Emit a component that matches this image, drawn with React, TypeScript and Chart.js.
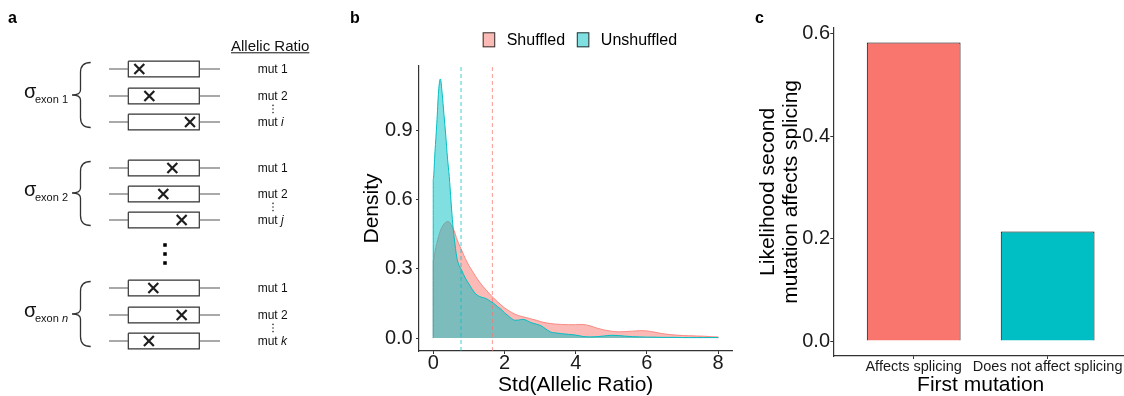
import React, { useEffect, useRef } from 'react';
import { Chart, registerables } from 'chart.js';

Chart.register(...registerables);

const FONT = '"Liberation Sans", Arial, Helvetica, sans-serif';
Chart.defaults.font.family = FONT;

// ---------- Panel a (schematic) ----------
const exonGroups = ['1', '2', 'n'];
const groupMutLabels = [['1', '2', 'i'], ['1', '2', 'j'], ['1', '2', 'k']];
// relative position of the mutation inside the exon box (0 = left edge, 1 = right edge)
const mutPositions = [[0.155, 0.296, 0.869], [0.62, 0.493, 0.752], [0.352, 0.752, 0.29]];
// row positions in schematic units
const groupRowY = [[69, 96, 122], [168, 194, 220], [288, 315, 341]];

// ---------- Panel b (density) ----------
const densityX = [0, 0.05, 0.1, 0.15, 0.2, 0.25, 0.3, 0.35, 0.4, 0.45, 0.5, 0.55, 0.6, 0.65, 0.7, 0.8, 0.9, 1.0, 1.1, 1.2, 1.3, 1.4, 1.5, 1.6, 1.7, 1.8, 1.9, 2.0, 2.1, 2.2, 2.3, 2.4, 2.5, 2.6, 2.7, 2.8, 2.9, 3.0, 3.1, 3.2, 3.3, 3.4, 3.6, 3.8, 4.0, 4.2, 4.4, 4.6, 4.8, 5.0, 5.2, 5.4, 5.6, 5.8, 6.0, 6.2, 6.4, 6.6, 6.8, 7.0, 7.2, 7.4, 7.6, 7.8, 8.0];
const unshuffledDensity = [0.69, 0.81, 0.93, 1.07, 1.123, 1.06, 0.97, 0.88, 0.78, 0.70, 0.59, 0.49, 0.42, 0.36, 0.325, 0.293, 0.26, 0.235, 0.21, 0.19, 0.18, 0.175, 0.17, 0.16, 0.15, 0.137, 0.125, 0.11, 0.097, 0.084, 0.077, 0.078, 0.081, 0.078, 0.07, 0.064, 0.06, 0.055, 0.046, 0.035, 0.026, 0.023, 0.019, 0.016, 0.013, 0.007, 0.005, 0.006, 0.009, 0.012, 0.011, 0.008, 0.006, 0.005, 0.004, 0.004, 0.003, 0.003, 0.003, 0.002, 0.002, 0.002, 0.002, 0.002, 0.002];
const shuffledDensity = [0.336, 0.375, 0.41, 0.44, 0.465, 0.482, 0.494, 0.502, 0.505, 0.503, 0.492, 0.477, 0.46, 0.435, 0.415, 0.38, 0.345, 0.315, 0.29, 0.265, 0.243, 0.223, 0.206, 0.188, 0.173, 0.158, 0.144, 0.131, 0.121, 0.111, 0.103, 0.097, 0.093, 0.089, 0.085, 0.081, 0.077, 0.072, 0.068, 0.065, 0.063, 0.061, 0.059, 0.058, 0.058, 0.059, 0.053, 0.043, 0.035, 0.030, 0.027, 0.028, 0.030, 0.032, 0.031, 0.026, 0.020, 0.016, 0.013, 0.011, 0.010, 0.009, 0.008, 0.006, 0.005];
const seriesNames = ['Shuffled', 'Unshuffled'];
const seriesMeans = [1.66, 0.78];
const densityXTicks = [0, 2, 4, 6, 8];
const densityYTicks = [0, 0.3, 0.6, 0.9];

// ---------- Panel c (bars) ----------
const firstMutation = ['Affects splicing', 'Does not affect splicing'];
const likelihood = [0.583, 0.214];
const likelihoodTicks = [0, 0.2, 0.4, 0.6];

// ---------- styles ----------
const RED = '#F8766D';
const CYAN = '#00BFC4';
const RED_A = 'rgba(248,118,109,0.5)';
const CYAN_A = 'rgba(0,191,196,0.5)';
const AXIS = '#333333';
const TICKTXT = '#1a1a1a';

// schematic geometry
const EXON_LEFT = 128.3, EXON_RIGHT = 199.3, INTRON_LEFT = 109, INTRON_RIGHT = 220, EXON_HALF_H = 7.8;
const SCHEMA_PAD = 12;

function makeSchematic(canvas: HTMLCanvasElement) {
  const introns: any[] = [];
  const boxes: any[] = [];
  const crosses: any[] = [];
  const smallDots: any[] = [];
  groupRowY.forEach((rows, g) => {
    rows.forEach((y, r) => {
      introns.push({ x: INTRON_LEFT, y }, { x: EXON_LEFT, y }, { x: EXON_LEFT, y: null },
        { x: EXON_RIGHT, y }, { x: INTRON_RIGHT, y }, { x: INTRON_RIGHT, y: null });
      boxes.push({ x: EXON_LEFT, y: y - EXON_HALF_H }, { x: EXON_RIGHT, y: y - EXON_HALF_H },
        { x: EXON_RIGHT, y: y + EXON_HALF_H }, { x: EXON_LEFT, y: y + EXON_HALF_H },
        { x: EXON_LEFT, y: y - EXON_HALF_H }, { x: EXON_LEFT, y: null });
      crosses.push({ x: EXON_LEFT + mutPositions[g][r] * (EXON_RIGHT - EXON_LEFT), y });
    });
    const mid = (rows[1] + rows[2]) / 2;
    smallDots.push({ x: 273, y: mid - 3.6 }, { x: 273, y: mid }, { x: 273, y: mid + 3.6 });
  });
  const gapMid = (groupRowY[1][2] + groupRowY[2][0]) / 2;
  const bigDots = [{ x: 165, y: gapMid - 9 }, { x: 165, y: gapMid }, { x: 165, y: gapMid + 9 }];

  const textPlugin = {
    id: 'schematicText',
    afterDatasetsDraw(chart: any) {
      const ctx = chart.ctx;
      const sx = (v: number) => chart.scales.x.getPixelForValue(v);
      const sy = (v: number) => chart.scales.y.getPixelForValue(v);
      ctx.save();
      ctx.fillStyle = '#000';
      ctx.textAlign = 'left';
      ctx.textBaseline = 'alphabetic';
      ctx.font = `bold 16px ${FONT}`;
      ctx.fillText('a', sx(8), sy(23));
      // header
      ctx.fillStyle = '#111';
      ctx.font = `15px ${FONT}`;
      ctx.fillText('Allelic Ratio', sx(231), sy(50.5));
      const hw = ctx.measureText('Allelic Ratio').width;
      ctx.strokeStyle = '#111';
      ctx.lineWidth = 1;
      ctx.beginPath();
      ctx.moveTo(sx(231), sy(52.8));
      ctx.lineTo(sx(231) + hw, sy(52.8));
      ctx.stroke();

      groupRowY.forEach((rows, g) => {
        const top = sy(rows[0] - 6.5);
        const bot = sy(rows[2] + 5.5);
        const tip = sy(rows[1] - 1);
        const xEnd = sx(90.7), xSpine = sx(80.5), xTip = sx(72);
        ctx.strokeStyle = '#333';
        ctx.lineWidth = 1.3;
        ctx.beginPath();
        ctx.moveTo(xEnd, top);
        ctx.quadraticCurveTo(xSpine, top, xSpine, top + 10);
        ctx.lineTo(xSpine, tip - 5);
        ctx.quadraticCurveTo(xSpine, tip, xTip, tip);
        ctx.quadraticCurveTo(xSpine, tip, xSpine, tip + 5);
        ctx.lineTo(xSpine, bot - 10);
        ctx.quadraticCurveTo(xSpine, bot, xEnd, bot);
        ctx.stroke();

        // sigma label
        ctx.fillStyle = '#111';
        ctx.textBaseline = 'alphabetic';
        ctx.font = `20px ${FONT}`;
        ctx.fillText('σ', sx(24), sy(rows[1] + 1.5));
        ctx.font = `11px ${FONT}`;
        const base = 'exon ';
        ctx.fillText(base, sx(35), sy(rows[1] + 6.8));
        const bw = ctx.measureText(base).width;
        if (exonGroups[g] === 'n') ctx.font = `italic 11px ${FONT}`;
        ctx.fillText(exonGroups[g], sx(35) + bw, sy(rows[1] + 6.8));

        // mut labels
        ctx.textBaseline = 'middle';
        rows.forEach((y, r) => {
          ctx.font = `12px ${FONT}`;
          const pre = 'mut ';
          ctx.fillText(pre, sx(257.7), sy(y + 0.3));
          const pw = ctx.measureText(pre).width;
          const lab = groupMutLabels[g][r];
          if (/[a-z]/.test(lab)) ctx.font = `italic 12px ${FONT}`;
          ctx.fillText(lab, sx(257.7) + pw, sy(y + 0.3));
        });
      });
      ctx.restore();
    },
  };

  return new Chart(canvas, {
    type: 'line',
    data: {
      datasets: [
        { label: 'introns', data: introns, borderColor: '#555', borderWidth: 1.2, pointRadius: 0, spanGaps: false, fill: false },
        { label: 'exons', data: boxes, borderColor: '#333', borderWidth: 1.2, pointRadius: 0, spanGaps: false, fill: false },
        { label: 'mutations', data: crosses, showLine: false, pointStyle: 'crossRot', pointRadius: 7, borderColor: '#1e1e1e', pointBorderWidth: 2.2, borderWidth: 2.2 },
        { label: 'dots', data: smallDots, showLine: false, pointStyle: 'circle', pointRadius: 0.8, backgroundColor: '#333', borderWidth: 0 },
        { label: 'groups', data: bigDots, showLine: false, pointStyle: 'rect', pointRadius: 2.5, backgroundColor: '#000', borderWidth: 0 },
      ] as any,
    },
    options: {
      responsive: false,
      animation: false,
      layout: { padding: SCHEMA_PAD },
      plugins: { legend: { display: false }, tooltip: { enabled: false } },
      events: [],
      scales: {
        x: { type: 'linear', min: SCHEMA_PAD, max: 340 - SCHEMA_PAD, display: false },
        y: { type: 'linear', min: SCHEMA_PAD, max: 396 - SCHEMA_PAD, reverse: true, display: false },
      },
    } as any,
    plugins: [textPlugin],
  });
}

function makeDensity(canvas: HTMLCanvasElement) {
  const Y_MIN = -0.0561, Y_MAX = 1.1791;
  const pts = (vals: number[]) => [
    { x: densityX[0], y: 0 },
    ...densityX.map((x, i) => ({ x, y: vals[i] })),
    { x: densityX[densityX.length - 1], y: 0 },
  ];
  const fills = [RED_A, CYAN_A];
  const lines = [RED, CYAN];
  const plugin = {
    id: 'densityDecor',
    afterDraw(chart: any) {
      const ctx = chart.ctx;
      ctx.save();
      ctx.fillStyle = '#000';
      ctx.textAlign = 'left';
      ctx.textBaseline = 'alphabetic';
      ctx.font = `bold 16px ${FONT}`;
      ctx.fillText('b', 10, 23);
      ctx.font = `16px ${FONT}`;
      ctx.textBaseline = 'middle';
      let x = 142.7;
      seriesNames.forEach((name, i) => {
        ctx.fillStyle = '#fff';
        ctx.fillRect(x, 32.3, 12.5, 15);
        ctx.fillStyle = fills[i];
        ctx.fillRect(x, 32.3, 12.5, 15);
        ctx.strokeStyle = '#333';
        ctx.lineWidth = 1;
        ctx.strokeRect(x + 0.5, 32.8, 11.5, 14);
        ctx.fillStyle = '#000';
        ctx.fillText(name, x + 24, 40.5);
        x += 24 + ctx.measureText(name).width + 11.7;
      });
      ctx.restore();
    },
  };
  return new Chart(canvas, {
    type: 'line',
    data: {
      datasets: [
        { label: 'mean ' + seriesNames[1], data: [{ x: seriesMeans[1], y: Y_MIN }, { x: seriesMeans[1], y: Y_MAX }], borderColor: 'rgba(0,191,196,0.75)', borderDash: [4, 3], borderWidth: 1, pointRadius: 0, fill: false },
        { label: 'mean ' + seriesNames[0], data: [{ x: seriesMeans[0], y: Y_MIN }, { x: seriesMeans[0], y: Y_MAX }], borderColor: 'rgba(248,118,109,0.75)', borderDash: [4, 3], borderWidth: 1, pointRadius: 0, fill: false },
        { label: seriesNames[1], data: pts(unshuffledDensity), borderColor: lines[1], backgroundColor: fills[1], fill: 'origin', borderWidth: 1, pointRadius: 0, cubicInterpolationMode: 'monotone' },
        { label: seriesNames[0], data: pts(shuffledDensity), borderColor: lines[0], backgroundColor: fills[0], fill: 'origin', borderWidth: 0.8, pointRadius: 0, cubicInterpolationMode: 'monotone' },
      ] as any,
    },
    options: {
      responsive: false,
      animation: false,
      events: [],
      layout: { padding: { left: 0, top: 66, right: 7.6, bottom: 0 } },
      plugins: { legend: { display: false }, tooltip: { enabled: false } },
      scales: {
        x: {
          type: 'linear', min: -0.4, max: 8.4,
          afterBuildTicks: (s: any) => { s.ticks = densityXTicks.map((v) => ({ value: v })); },
          afterFit: (s: any) => { s.height = 45; },
          ticks: { callback: (v: any) => String(v), font: { size: 20, lineHeight: 0.9 }, color: TICKTXT, padding: 0, maxRotation: 0, autoSkip: false },
          grid: { display: true, drawOnChartArea: false, drawTicks: true, tickLength: 3, tickColor: AXIS, color: AXIS },
          border: { display: true, color: AXIS, width: 1.2 },
          title: { display: true, text: 'Std(Allelic Ratio)', color: '#000', font: { size: 21, lineHeight: 1 }, padding: { top: 0, bottom: 0 } },
        },
        y: {
          type: 'linear', min: Y_MIN, max: Y_MAX,
          afterBuildTicks: (s: any) => { s.ticks = densityYTicks.map((v) => ({ value: v })); },
          afterFit: (s: any) => { s.width = 79; },
          ticks: { callback: (v: any) => Number(v).toFixed(1), font: { size: 20 }, color: TICKTXT, padding: 3.3 },
          grid: { display: true, drawOnChartArea: false, drawTicks: true, tickLength: 3, tickColor: AXIS, color: AXIS },
          border: { display: true, color: AXIS, width: 1.2 },
          title: { display: true, text: 'Density', color: '#000', font: { size: 21, lineHeight: 1.2 }, padding: { top: 19.4, bottom: 0 } },
        },
      },
    } as any,
    plugins: [plugin],
  });
}

function makeBars(canvas: HTMLCanvasElement) {
  const Y_MIN = -0.02915, Y_MAX = 0.61215;
  const plugin = {
    id: 'barDecor',
    afterDraw(chart: any) {
      const ctx = chart.ctx;
      ctx.save();
      ctx.fillStyle = '#000';
      ctx.textAlign = 'left';
      ctx.textBaseline = 'alphabetic';
      ctx.font = `bold 16px ${FONT}`;
      ctx.fillText('c', 15, 23);
      ctx.restore();
    },
  };
  return new Chart(canvas, {
    type: 'bar',
    data: {
      datasets: [
        {
          label: 'likelihood',
          data: likelihood.map((v, i) => ({ x: i, y: v })),
          backgroundColor: [RED, CYAN],
          borderColor: '#000',
          borderWidth: 1,
          categoryPercentage: 1,
          barPercentage: 0.7,
        },
      ] as any,
    },
    options: {
      responsive: false,
      animation: false,
      events: [],
      layout: { padding: { left: 0, top: 27.7, right: 4, bottom: 0 } },
      plugins: { legend: { display: false }, tooltip: { enabled: false } },
      scales: {
        x: {
          type: 'linear', min: -0.6, max: 1.6, offset: false,
          afterBuildTicks: (s: any) => { s.ticks = firstMutation.map((_, i) => ({ value: i })); },
          afterFit: (s: any) => { s.height = 40; },
          ticks: { callback: (v: any) => firstMutation[v], font: { size: 14.5, lineHeight: 1 }, color: TICKTXT, padding: 0.75, maxRotation: 0, minRotation: 0, autoSkip: false },
          grid: { display: true, offset: false, drawOnChartArea: false, drawTicks: true, tickLength: 3, tickColor: AXIS, color: AXIS },
          border: { display: true, color: AXIS, width: 1.2 },
          title: { display: true, text: 'First mutation', color: '#000', font: { size: 21, lineHeight: 1 }, padding: { top: 0, bottom: 0.5 } },
        },
        y: {
          type: 'linear', min: Y_MIN, max: Y_MAX,
          afterBuildTicks: (s: any) => { s.ticks = likelihoodTicks.map((v) => ({ value: v })); },
          afterFit: (s: any) => { s.width = 93.3; },
          ticks: { callback: (v: any) => Number(v).toFixed(1), font: { size: 20 }, color: TICKTXT, padding: 0.3 },
          grid: { display: true, drawOnChartArea: false, drawTicks: true, tickLength: 3, tickColor: AXIS, color: AXIS },
          border: { display: true, color: AXIS, width: 1.2 },
          title: { display: true, text: ['Likelihood second', 'mutation affects splicing'], color: '#000', font: { size: 21, lineHeight: 1.1 }, padding: { top: 16.75, bottom: 0 } },
        },
      },
    } as any,
    plugins: [plugin],
  });
}

export default function App() {
  const aRef = useRef<HTMLCanvasElement>(null);
  const bRef = useRef<HTMLCanvasElement>(null);
  const cRef = useRef<HTMLCanvasElement>(null);
  useEffect(() => {
    const charts = [
      makeSchematic(aRef.current as HTMLCanvasElement),
      makeDensity(bRef.current as HTMLCanvasElement),
      makeBars(cRef.current as HTMLCanvasElement),
    ];
    return () => charts.forEach((c) => c.destroy());
  }, []);
  return (
    <div style={{ position: 'fixed', left: 0, top: 0, width: 1124, height: 396, overflow: 'hidden', background: '#fff' }}>
      <canvas ref={aRef} width={340} height={396} style={{ position: 'absolute', left: 0, top: 0 }} />
      <canvas ref={bRef} width={400} height={396} style={{ position: 'absolute', left: 340, top: 0 }} />
      <canvas ref={cRef} width={392} height={396} style={{ position: 'absolute', left: 740, top: 0 }} />
    </div>
  );
}
